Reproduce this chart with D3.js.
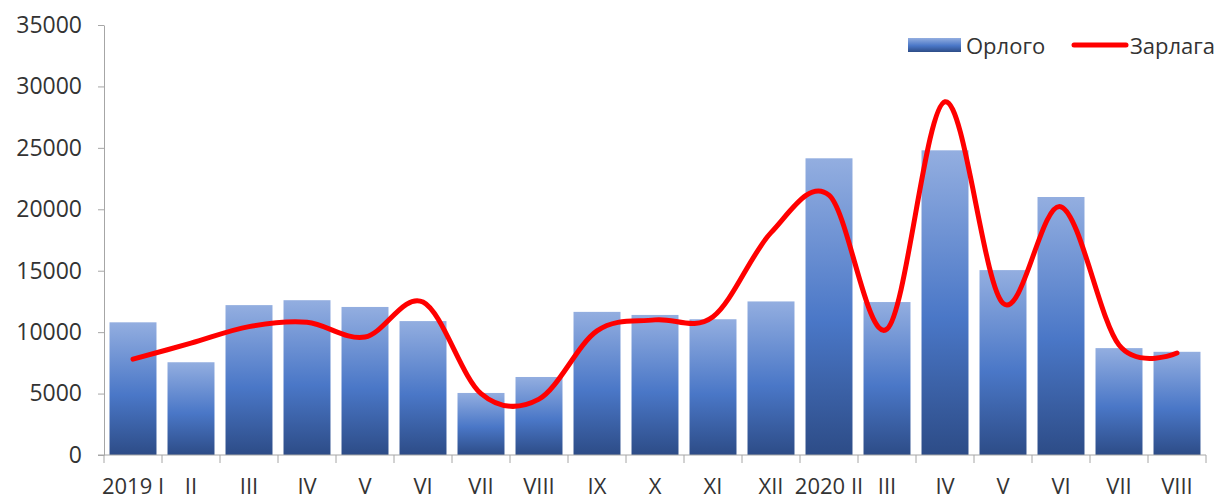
<!DOCTYPE html>
<html>
<head>
<meta charset="utf-8">
<script src="https://cdn.jsdelivr.net/npm/d3@7"></script>
<style>
  body { margin: 0; background: #fff; }
  text { font-family: "Open Sans", sans-serif; fill: #333; }
</style>
</head>
<body>
<svg id="chart" width="1219" height="499"></svg>
<script>
// data
var months = ["2019 I", "II", "III", "IV", "V", "VI", "VII", "VIII", "IX", "X", "XI", "XII",
              "2020 II", "III", "IV", "V", "VI", "VII", "VIII"];
var orlogo = [10800, 7550, 12200, 12600, 12050, 10900, 5050, 6350, 11650, 11400, 11050, 12500,
              24150, 12450, 24800, 15050, 21000, 8700, 8400];
var zarlaga = [7800, 9100, 10450, 10800, 9600, 12450, 5000, 4550, 10100, 11000, 11250, 18100,
               21150, 10250, 28750, 12350, 20200, 8950, 8300];
var yTicks = [0, 5000, 10000, 15000, 20000, 25000, 30000, 35000];

var svg = d3.select("#chart");
var plotLeft = 104, plotRight = 1206, plotTop = 25, plotBottom = 455;

var x = d3.scaleBand()
    .domain(d3.range(months.length))
    .range([plotLeft, plotRight])
    .paddingInner(0.19)
    .paddingOuter(0.095);

var y = d3.scaleLinear().domain([0, 35000]).range([plotBottom, plotTop]);

// gradient for bars
var defs = svg.append("defs");
var grad = defs.append("linearGradient")
    .attr("id", "barGrad")
    .attr("x1", 0).attr("y1", 0).attr("x2", 0).attr("y2", 1);
grad.append("stop").attr("offset", "0%").attr("stop-color", "#93aee0");
grad.append("stop").attr("offset", "55%").attr("stop-color", "#4a77c7");
grad.append("stop").attr("offset", "100%").attr("stop-color", "#2d4c87");

// y axis
var yAxis = svg.append("g")
    .attr("transform", "translate(" + plotLeft + ",0)")
    .call(d3.axisLeft(y).tickValues(yTicks).tickSize(6).tickSizeOuter(0).tickPadding(16)
        .tickFormat(d3.format("d")));
yAxis.select(".domain").attr("stroke", "#a6a6a6");
yAxis.selectAll(".tick line").attr("stroke", "#a6a6a6");
yAxis.selectAll("text").style("font-size", "23px").attr("fill", "#333");

// bars
svg.append("g").selectAll("rect")
    .data(orlogo)
    .enter().append("rect")
    .attr("x", function(d, i) { return x(i); })
    .attr("y", function(d) { return y(d); })
    .attr("width", x.bandwidth())
    .attr("height", function(d) { return plotBottom - y(d); })
    .attr("fill", "url(#barGrad)");

// x axis
var xAxis = svg.append("g")
    .attr("transform", "translate(0," + plotBottom + ")")
    .call(d3.axisBottom(x).tickSize(0).tickPadding(23)
        .tickFormat(function(i) { return months[i]; }));
xAxis.select(".domain").remove();
xAxis.selectAll("text").style("font-size", "22px").attr("fill", "#333");

var gap = x.step() - x.bandwidth();
function boundary(i) {
  return i < months.length ? x(i) - gap / 2 : x(i - 1) + x.bandwidth() + gap / 2;
}
svg.append("line")
    .attr("x1", plotLeft - 6).attr("x2", boundary(months.length))
    .attr("y1", plotBottom).attr("y2", plotBottom)
    .attr("stroke", "#a6a6a6");
svg.append("g").selectAll("line")
    .data(d3.range(months.length + 1))
    .enter().append("line")
    .attr("x1", boundary)
    .attr("x2", boundary)
    .attr("y1", plotBottom).attr("y2", plotBottom + 8)
    .attr("stroke", "#a6a6a6");

// smooth line
var line = d3.line()
    .x(function(d, i) { return x(i) + x.bandwidth() / 2; })
    .y(function(d) { return y(d); })
    .curve(d3.curveCardinal.tension(0));

svg.append("path")
    .datum(zarlaga)
    .attr("d", line)
    .attr("fill", "none")
    .attr("stroke", "#ff0000")
    .attr("stroke-width", 5)
    .attr("stroke-linecap", "round")
    .attr("stroke-linejoin", "round");

// legend
var lg = svg.append("g");
lg.append("rect").attr("x", 908).attr("y", 38).attr("width", 53).attr("height", 14)
    .attr("fill", "url(#barGrad)");
lg.append("text").attr("x", 966).attr("y", 54).style("font-size", "22px").text("Орлого");
lg.append("line").attr("x1", 1074).attr("x2", 1126).attr("y1", 45).attr("y2", 45)
    .attr("stroke", "#ff0000").attr("stroke-width", 5).attr("stroke-linecap", "round");
lg.append("text").attr("x", 1130).attr("y", 54).style("font-size", "22px").text("Зарлага");
</script>
</body>
</html>
